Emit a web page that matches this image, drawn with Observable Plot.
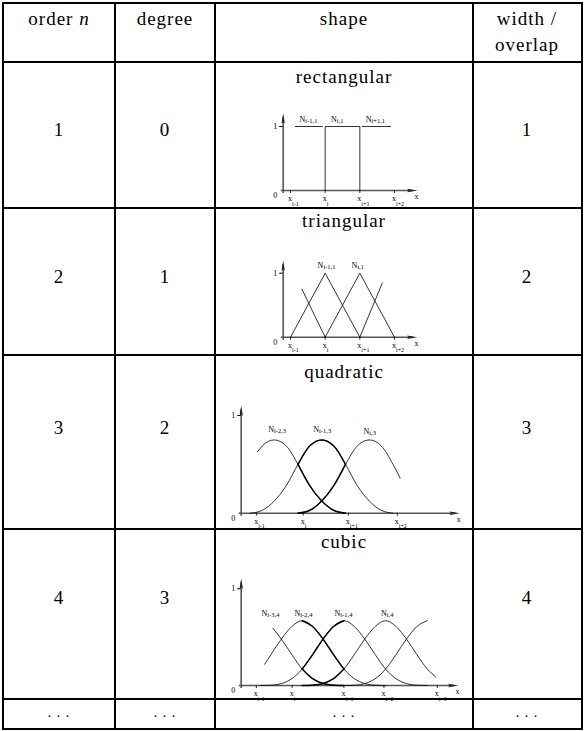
<!DOCTYPE html>
<html><head><meta charset="utf-8">
<script src="https://cdn.jsdelivr.net/npm/d3@7"></script>
<script src="https://cdn.jsdelivr.net/npm/@observablehq/plot@0.6"></script>
<style>
html,body{margin:0;padding:0;background:#fff;}
#wrap{position:relative;width:584px;height:731px;overflow:hidden;font-family:"Liberation Serif","Times New Roman",Tinos,"DejaVu Serif",serif;color:#000;}
.ct{position:absolute;font-size:19px;line-height:19px;white-space:nowrap;letter-spacing:1px;transform:translateX(-50%);}
.rule{position:absolute;background:#000;}
.panel{position:absolute;}
</style></head><body><div id="wrap"></div>
<script>
// ================= data =================
const headerLabels = ["order", "degree", "shape", "width /", "overlap"];
const headerVar = "n";
const orderValues = ["1", "2", "3", "4", ". . ."];
const degreeValues = ["0", "1", "2", "3", ". . ."];
const shapeNames = ["rectangular", "triangular", "quadratic", "cubic", ". . ."];
const widthValues = ["1", "2", "3", "4", ". . ."];

// rectangular (order 1)
const rectKnots = [0, 1, 2, 3];
const rectKnotLabels = ["x_i-1", "x_i", "x_i+1", "x_i+2"];
const rectPulse = [[1, 0], [1, 1], [2, 1], [2, 0]];
const rectLeftLevel = [[0.14, 1], [0.92, 1]];
const rectRightLevel = [[2.07, 1], [2.89, 1]];
const rectNames = ["N_i-1,1", "N_i,1", "N_i+1,1"];
const rectNameU = [0.52, 1.35, 2.45];
const rectNameV = [1.11, 1.11, 1.11];

// triangular (order 2)
const triKnots = [0, 1, 2, 3];
const triKnotLabels = ["x_i-1", "x_i", "x_i+1", "x_i+2"];
const triHatA = [[0, 0], [1, 1], [2, 0]];
const triHatB = [[1, 0], [2, 1], [3, 0]];
const triLeftTail = [[0.33, 0.75], [1, 0]];
const triRightTail = [[2, 0], [2.65, 0.85]];
const triNames = ["N_i-1,1", "N_i,1"];
const triNameU = [1.04, 1.94];
const triNameV = [1.12, 1.12];

// quadratic (order 3)
const quadKnotLabels = ["x_i-1", "x_i", "x_i+1", "x_i+2"];
const quadKnotLabelU = [0.13, 1.11, 2.06, 3.09];
const quadLeft = [[0.15, 0.63], [0.25, 0.69], [0.5, 0.75], [0.75, 0.69], [1, 0.5], [1.25, 0.28], [1.5, 0.125], [1.75, 0.03], [2, 0]];
const quadMid = [[0, 0], [0.25, 0.03], [0.5, 0.125], [0.75, 0.28], [1, 0.5], [1.25, 0.69], [1.5, 0.75], [1.75, 0.69], [2, 0.5], [2.25, 0.28], [2.5, 0.125], [2.75, 0.03], [3, 0]];
const quadRight = [[1, 0], [1.25, 0.03], [1.5, 0.125], [1.75, 0.28], [2, 0.5], [2.25, 0.69], [2.5, 0.75], [2.75, 0.69], [3, 0.5], [3.15, 0.36]];
const quadNames = ["N_i-2,3", "N_i-1,3", "N_i,3"];
const quadNameU = [0.56, 1.51, 2.51];
const quadNameV = [0.86, 0.86, 0.84];

// cubic (order 4)
const cubKnotLabels = ["x_i-1", "x_i", "x_i+1", "x_i+2", "x_i+3"];
const cubKnotLabelU = [-0.1, 0.76, 2.0, 2.96, 4.24];
const cubA = [[0.3, 0.59], [0.5, 0.48], [0.75, 0.32], [1, 0.17], [1.25, 0.07], [1.5, 0.02], [1.75, 0.003], [2, 0]];
const cubB = [[0.1, 0.22], [0.25, 0.32], [0.5, 0.48], [0.75, 0.61], [1, 0.67], [1.25, 0.61], [1.5, 0.48], [1.75, 0.32], [2, 0.17], [2.25, 0.07], [2.5, 0.02], [2.75, 0.003], [3, 0]];
const cubC = [[0, 0], [0.25, 0.003], [0.5, 0.02], [0.75, 0.07], [1, 0.17], [1.25, 0.32], [1.5, 0.48], [1.75, 0.61], [2, 0.67], [2.25, 0.61], [2.5, 0.48], [2.75, 0.32], [3, 0.17], [3.25, 0.07], [3.5, 0.02], [3.75, 0.003], [4, 0]];
const cubD = [[1, 0], [1.25, 0.003], [1.5, 0.02], [1.75, 0.07], [2, 0.17], [2.25, 0.32], [2.5, 0.48], [2.75, 0.61], [3, 0.67], [3.25, 0.61], [3.5, 0.48], [3.75, 0.32], [4, 0.17], [4.2, 0.09]];
const cubE = [[2, 0], [2.25, 0.003], [2.5, 0.02], [2.75, 0.07], [3, 0.17], [3.25, 0.32], [3.5, 0.48], [3.75, 0.61], [4, 0.67]];
const cubNames = ["N_i-3,4", "N_i-2,4", "N_i-1,4", "N_i,4"];
const cubNameU = [0.24, 1.03, 1.99, 3.04];
const cubNameV = [0.75, 0.75, 0.75, 0.75];

// ================= layout =================
const colX = [3, 115, 215, 473, 582];
const rowY = [3, 62, 208, 355, 529, 699, 729];
const lineW = 2;
const wrap = document.getElementById("wrap");

function rule(x, y, w, h) {
  const d = document.createElement("div");
  d.className = "rule";
  Object.assign(d.style, {left: x + "px", top: y + "px", width: w + "px", height: h + "px"});
  wrap.appendChild(d);
}
colX.forEach(x => rule(x - lineW / 2, rowY[0] - lineW / 2, lineW, rowY[6] - rowY[0] + lineW));
rowY.forEach((y, i) => {
  const w = (i === 1) ? 2.6 : lineW;
  rule(colX[0] - lineW / 2, y - w / 2, colX[4] - colX[0] + lineW, w);
});

function text(html, cx, baseline, size = 19) {
  const d = document.createElement("div");
  d.className = "ct";
  d.style.fontSize = size + "px";
  d.style.lineHeight = size + "px";
  d.innerHTML = html;
  d.style.left = cx + "px";
  d.style.top = (baseline - size * 0.837) + "px";
  wrap.appendChild(d);
}
const colC = [59, 165, 344, 527];
text(headerLabels[0] + " <i>" + headerVar + "</i>", colC[0], 25);
text(headerLabels[1], colC[1], 25);
text(headerLabels[2], colC[2], 25);
text(headerLabels[3], colC[3], 25);
text(headerLabels[4], colC[3], 51);

const titleBase = [83, 227, 378, 548];
const numBase = [136, 283, 434, 604];
for (let i = 0; i < 4; i++) {
  text(orderValues[i], colC[0], numBase[i]);
  text(degreeValues[i], colC[1], numBase[i]);
  text(widthValues[i], colC[3], numBase[i]);
  text(shapeNames[i], colC[2], titleBase[i]);
}
text(orderValues[4], colC[0], 718, 14);
text(degreeValues[4], colC[1], 718, 14);
text(shapeNames[4], colC[2], 718, 14);
text(widthValues[4], colC[3], 718, 14);

// ================= panels =================
const arrowHead = {
  draw(ctx, size) {
    const r = Math.sqrt(size / Math.PI);
    ctx.moveTo(0, 0);
    ctx.lineTo(0.42 * r, 2.6 * r);
    ctx.lineTo(0, 2.2 * r);
    ctx.lineTo(-0.42 * r, 2.6 * r);
    ctx.closePath();
  }
};
const AX = "#555";
const FONT = "Liberation Serif, Times New Roman, Tinos, DejaVu Serif, serif";

function panel(cfg) {
  const [bx, by, bw, bh] = cfg.box;
  const [[u0, p0], [u1, p1]] = cfg.xMap;
  const ppx = (p1 - p0) / (u1 - u0);
  const ppy = cfg.yMap[0] - cfg.yMap[1];
  const ux = px => u0 + (px - p0) / ppx;
  const vy = py => (cfg.yMap[0] - py) / ppy;
  const yAxisU = ux(cfg.axisX);
  const marks = [
    Plot.ruleY([0], {x1: ux(cfg.axisX - 2), x2: ux(cfg.axisRight - 4), stroke: AX, strokeWidth: 1.6}),
    Plot.ruleX([yAxisU], {y1: vy(cfg.yMap[0] + 3), y2: vy(cfg.axisTop + 4), stroke: AX, strokeWidth: 1.6}),
    Plot.dot([0], {x: yAxisU, y: vy(cfg.axisTop), symbol: arrowHead, r: 4, fill: "#222", stroke: "none"}),
    Plot.dot([0], {x: ux(cfg.axisRight), y: 0, symbol: arrowHead, r: 4, fill: "#222", stroke: "none", rotate: 90}),
    Plot.ruleY([1], {x1: ux(cfg.axisX - 3.5), x2: yAxisU, stroke: "#000", strokeWidth: 1}),
    Plot.ruleX(cfg.knots, {y1: 0, y2: vy(cfg.yMap[0] + 3), stroke: "#000", strokeWidth: 0.8}),
    Plot.text(["1"], {x: ux(cfg.axisX - 8), y: 1, text: d => d, fontSize: 8, fontFamily: FONT}),
    Plot.text(["0"], {x: ux(cfg.axisX - 8), y: vy(cfg.yMap[0] + 5), text: d => d, fontSize: 8, fontFamily: FONT}),
    Plot.text(["x"], {x: ux(cfg.axisRight - 1), y: vy(cfg.yMap[0] + 6), text: d => d, fontSize: 8, fontFamily: FONT}),
    Plot.text(cfg.knotLabels, {x: (d, i) => (cfg.knotLabelU ? cfg.knotLabelU[i] : cfg.knots[i]), y: vy(cfg.yMap[0] + 8), text: d => d,
      textAnchor: "start", dx: -2.5, fontSize: 8, fontFamily: FONT})
  ];
  for (const c of cfg.curves) {
    marks.push(Plot.line(c, {x: d => d[0], y: d => d[1], curve: cfg.curveType, stroke: "#000", strokeWidth: 0.8}));
  }
  for (const c of (cfg.thick || [])) {
    marks.push(Plot.line(c.filter(d => d[0] >= 1 && d[0] <= 2), {x: d => d[0], y: d => d[1], curve: cfg.curveType, stroke: "#000", strokeWidth: 1.5}));
  }
  marks.push(Plot.text(cfg.names, {x: (d, i) => cfg.nameU[i], y: (d, i) => cfg.nameV[i], text: d => d, fontSize: 8, fontFamily: FONT}));

  const svg = Plot.plot({
    width: bw, height: bh, margin: 0,
    x: {domain: [u0, u1], range: [p0 - bx, p1 - bx], axis: null},
    y: {domain: [0, 1], range: [cfg.yMap[0] - by, cfg.yMap[1] - by], axis: null},
    style: {background: "transparent", overflow: "visible", fontFamily: FONT},
    marks
  });
  svg.querySelectorAll("text").forEach(t => {
    const s = t.textContent;
    const k = s.indexOf("_");
    if (k > 0) {
      const base = s.slice(0, k), sub = s.slice(k + 1);
      t.textContent = base;
      const ts = document.createElementNS("http://www.w3.org/2000/svg", "tspan");
      ts.setAttribute("font-size", base === "x" ? "6" : "6.5");
      ts.setAttribute("dy", base === "x" ? "4.5" : "1");
      ts.textContent = sub;
      t.appendChild(ts);
    }
  });
  svg.classList.add("panel");
  svg.style.left = bx + "px";
  svg.style.top = by + "px";
  wrap.appendChild(svg);
}

panel({
  box: [217, 64, 254, 142], xMap: [[0, 290], [3, 394]], yMap: [190, 126],
  axisX: 282.7, axisTop: 112.7, axisRight: 417,
  knots: rectKnots, knotLabels: rectKnotLabels, curveType: "linear",
  curves: [rectPulse, rectLeftLevel, rectRightLevel],
  names: rectNames, nameU: rectNameU, nameV: rectNameV
});
panel({
  box: [217, 210, 254, 143], xMap: [[0, 290], [3, 394]], yMap: [336.7, 272.7],
  axisX: 282.7, axisTop: 260, axisRight: 417,
  knots: triKnots, knotLabels: triKnotLabels, curveType: "linear",
  curves: [triHatA, triHatB, triLeftTail, triRightTail],
  names: triNames, nameU: triNameU, nameV: triNameV
});
panel({
  box: [217, 357, 254, 170], xMap: [[0, 250], [3, 392.5]], yMap: [512.7, 415],
  axisX: 240.7, axisTop: 405, axisRight: 459.3,
  knots: quadKnotLabelU, knotLabels: quadKnotLabels, curveType: "monotone-x",
  curves: [quadLeft, quadMid, quadRight], thick: [quadLeft, quadMid, quadRight],
  names: quadNames, nameU: quadNameU, nameV: quadNameV
});
panel({
  box: [217, 531, 254, 166], xMap: [[0, 260], [4, 426.8]], yMap: [685, 588.3],
  axisX: 240.7, axisTop: 578, axisRight: 458,
  knots: cubKnotLabelU, knotLabels: cubKnotLabels, curveType: "monotone-x",
  curves: [cubA, cubB, cubC, cubD, cubE], thick: [cubA, cubB, cubC, cubD],
  names: cubNames, nameU: cubNameU, nameV: cubNameV
});
</script></body></html>
